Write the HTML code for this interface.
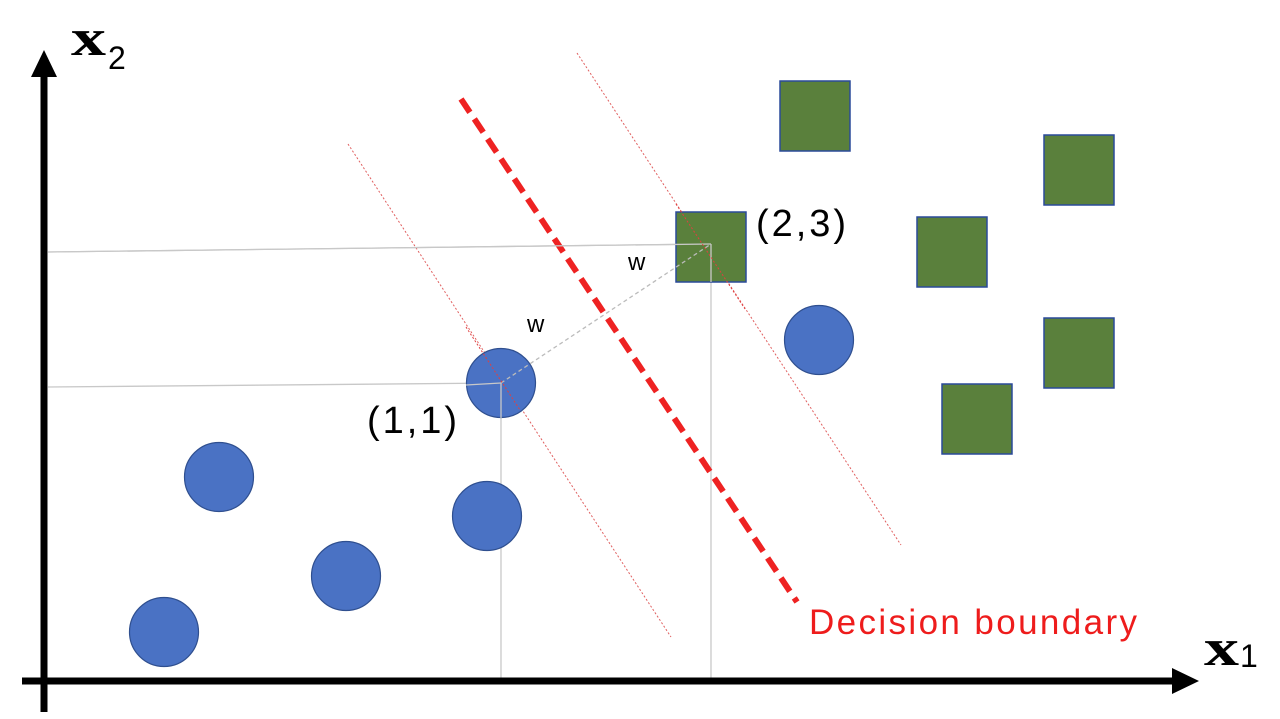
<!DOCTYPE html>
<html><head><meta charset="utf-8"><style>html,body{margin:0;padding:0;background:#fff}svg{display:block}</style></head>
<body>
<svg id="chart" width="1280" height="719" viewBox="0 0 1280 719" xmlns="http://www.w3.org/2000/svg">
<g id="guides"></g>
<g id="marks"></g>
<line x1="44" y1="712" x2="44" y2="72" stroke="#000" stroke-width="7"/>
<polygon points="44,50 31,77 57,77" fill="#000"/>
<line x1="22" y1="681" x2="1176" y2="681" stroke="#000" stroke-width="7"/>
<polygon points="1199,681 1172,668 1172,694" fill="#000"/>
<text x="71" y="55" font-family="Liberation Serif, serif" font-weight="bold" font-size="52" textLength="35" lengthAdjust="spacingAndGlyphs">x</text>
<text x="108" y="69" font-family="Liberation Sans, sans-serif" font-size="32">2</text>
<text x="1204" y="665" font-family="Liberation Serif, serif" font-weight="bold" font-size="52" textLength="35" lengthAdjust="spacingAndGlyphs">x</text>
<text x="1240" y="667" font-family="Liberation Sans, sans-serif" font-size="32">1</text>
<text x="367" y="433" font-family="Liberation Sans, sans-serif" font-size="38" textLength="90">(1,1)</text>
<text x="756" y="236" font-family="Liberation Sans, sans-serif" font-size="38" textLength="90">(2,3)</text>
<text x="527" y="332" font-family="Liberation Sans, sans-serif" font-size="24">w</text>
<text x="628" y="270" font-family="Liberation Sans, sans-serif" font-size="24">w</text>
<text x="809" y="634" font-family="Liberation Sans, sans-serif" font-size="35" fill="#ee1c1c" textLength="328">Decision boundary</text>
</svg>
<script>
const circleX = [1.16, 1.71, 2.98, 4.39, 4.53, 7.71];
const circleY = [0.48, 2.03, 1.04, 1.64, 2.97, 3.40];
const squareX = [7.67, 10.31, 6.63, 9.04, 10.31, 9.29];
const squareY = [5.64, 5.10, 4.33, 4.28, 3.27, 2.61];
const x = v => 48 + v * 100;
const y = v => 680 - v * 100;
const NS = 'http://www.w3.org/2000/svg';
const marks = document.getElementById('marks');
const guides = document.getElementById('guides');
function mk(tag, attrs, parent) {
  const e = document.createElementNS(NS, tag);
  for (const k in attrs) e.setAttribute(k, attrs[k]);
  parent.appendChild(e);
  return e;
}
let g;
g = mk('line', {x1:48,y1:252,x2:711,y2:244,stroke:'#c8c8c8','stroke-width':1.3}, guides);


g = mk('line', {x1:48,y1:387,x2:501,y2:383,stroke:'#c8c8c8','stroke-width':1.3}, guides);


g = mk('line', {x1:501,y1:383,x2:501,y2:680,stroke:'#c8c8c8','stroke-width':1.3}, guides);


g = mk('line', {x1:711,y1:244,x2:711,y2:680,stroke:'#c8c8c8','stroke-width':1.3}, guides);


g = mk('line', {x1:348,y1:144,x2:671,y2:637,stroke:'#e06060','stroke-width':1,'stroke-dasharray':'2 2'}, guides);


g = mk('line', {x1:577,y1:53,x2:901,y2:545,stroke:'#e06060','stroke-width':1,'stroke-dasharray':'2 2'}, guides);


g = mk('line', {x1:461,y1:99,x2:797,y2:602,stroke:'#ee2222','stroke-width':6,'stroke-dasharray':'16 8'}, guides);


circleX.forEach((v, i) => {
  const c = mk('circle', {cx:x(v), cy:y(circleY[i]), r:34.5, fill:'#4a72c4', stroke:'#2f4f8f','stroke-width':1.2}, marks);
  
  
});
squareX.forEach((v, i) => {
  const s = mk('rect', {x:x(v)-35, y:y(squareY[i])-35, width:70, height:70, fill:'#5a803c', stroke:'#2a4a9a','stroke-width':1.5}, marks);
  
  
});
g = mk('line', {x1:501,y1:383,x2:711,y2:244,stroke:'#bbbbbb','stroke-width':1.3,'stroke-dasharray':'4 3'}, marks);


g = mk('line', {x1:48,y1:252,x2:711,y2:244,stroke:'#c8c8c8','stroke-width':1.3}, marks);


g = mk('line', {x1:711,y1:244,x2:711,y2:282,stroke:'#c8c8c8','stroke-width':1.3}, marks);


g = mk('line', {x1:466,y1:385,x2:501,y2:383,stroke:'#c8c8c8','stroke-width':1.3}, marks);


g = mk('line', {x1:501,y1:383,x2:501,y2:418,stroke:'#c8c8c8','stroke-width':1.3}, marks);


g = mk('line', {x1:466,y1:327,x2:520,y2:410,stroke:'#e04040','stroke-width':1,'stroke-dasharray':'2 2'}, marks);


g = mk('line', {x1:676,y1:204,x2:745,y2:309,stroke:'#e04040','stroke-width':1,'stroke-dasharray':'2 2'}, marks);


</script>
</body></html>
